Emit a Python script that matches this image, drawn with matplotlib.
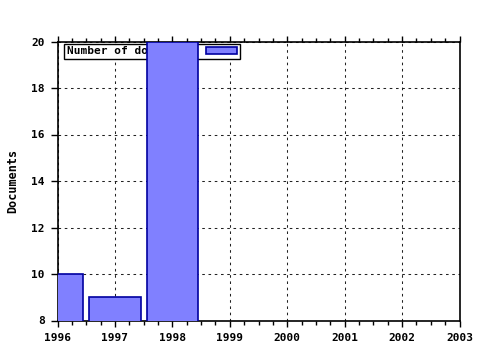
import matplotlib
matplotlib.use("Agg")
import matplotlib.pyplot as plt
from matplotlib.ticker import MultipleLocator

years = [1996, 1997, 1998]
documents = [10, 9, 20]
series_label = "Number of documents"
y_label = "Documents"

plt.rcParams["font.family"] = "DejaVu Sans Mono"
plt.rcParams["font.weight"] = "bold"
plt.rcParams["font.size"] = 8

fig = plt.figure(figsize=(4.8, 3.5), dpi=100)
ax = fig.add_axes([57.5 / 480, 1 - 320.5 / 350, (459.5 - 57.5) / 480, (320.5 - 41.5) / 350])

ax.bar(years, documents, width=0.9, bottom=0, color="#8080ff",
       edgecolor="#0000a0", linewidth=1.2, label=series_label, zorder=3)

ax.set_xlim(1996, 2003)
ax.set_ylim(8, 20)
ax.xaxis.set_major_locator(MultipleLocator(1))
ax.xaxis.set_minor_locator(MultipleLocator(0.25))
ax.yaxis.set_major_locator(MultipleLocator(2))

ax.grid(True, which="major", color="#222222", linestyle=(0, (2.5, 3.5)), linewidth=0.75, zorder=0)
ax.set_axisbelow(True)

ax.tick_params(axis="x", which="both", direction="out", top=True, bottom=True,
               length=4, width=1, pad=5)
ax.tick_params(axis="x", which="minor", length=3)
ax.tick_params(axis="y", which="major", direction="out", length=5, width=1, pad=4)
for sp in ax.spines.values():
    sp.set_linewidth(1.2)

ax.set_ylabel(y_label, fontweight="bold", fontsize=8.5, labelpad=9)

leg = ax.legend(loc="upper left", bbox_to_anchor=(6.5 / 402, 1 - 2 / 279),
                borderaxespad=0, fancybox=False, framealpha=1, edgecolor="black",
                markerfirst=False, handlelength=2.8, handleheight=0.5,
                handletextpad=1.0, borderpad=0.25)
leg.get_frame().set_linewidth(1)
leg.set_zorder(1)

fig.savefig("out.png", dpi=100)
